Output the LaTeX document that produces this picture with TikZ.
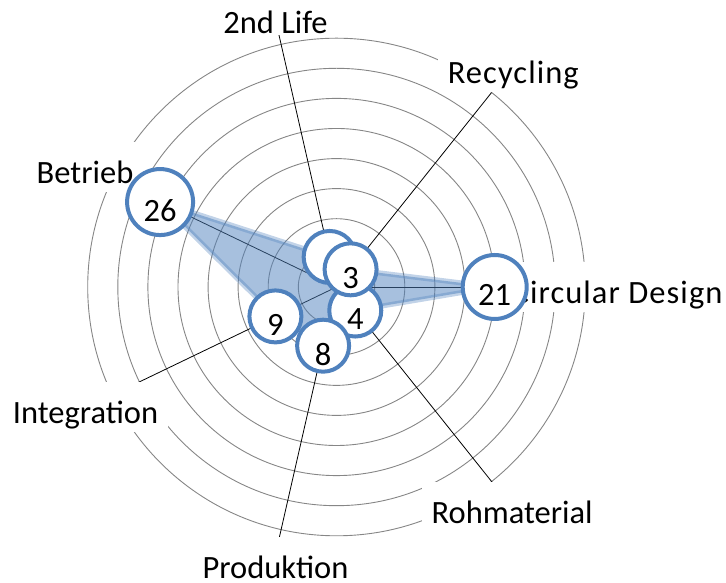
\documentclass[tikz,border=0pt]{standalone}
\usepackage{fontspec}
\setmainfont{Carlito}
\definecolor{xlblue}{HTML}{4F81BD}
\definecolor{gridgray}{HTML}{868686}
\begin{document}
\begin{tikzpicture}[x=1pt,y=1pt,
  gridline/.style={draw=gridgray,line width=0.9pt},
  axisline/.style={draw=black,line width=0.8pt},
  lab/.style={fill=white,inner xsep=10pt,inner ysep=0pt,text height=41pt,text depth=9pt,anchor=base,font=\fontsize{32.5pt}{39pt}\selectfont},
  wide/.style={font=\fontsize{32.5pt}{39pt}\selectfont\addfontfeature{LetterSpace=3.3}},
  bubble/.style={circle,draw=xlblue,fill=white,line width=4pt,inner sep=0pt},
  small/.style={bubble,minimum size=52pt},
  num/.style={inner sep=0pt,font=\fontsize{32.5pt}{39pt}\selectfont}]
\useasboundingbox (0,0) rectangle (726,583);
\coordinate (C) at (336.5,296);
% grid circles
\foreach \r in {38.2,68.3,98.4,128.4,158.5,188.6,218.7,248.8}
  \draw[gridline] (C) circle[radius=\r];
\begin{scope}[shift={(C)}]
  % axis ends
  \coordinate (aCD) at (0:258);
  \coordinate (aRec) at (51.43:248.6);
  \coordinate (aTL) at (102.86:258.4);
  \coordinate (aBet) at (154.29:220);
  \coordinate (aInt) at (205.71:221.8);
  \coordinate (aPro) at (257.14:257.7);
  \coordinate (aRoh) at (308.57:251);
  % data points
  \coordinate (pCD) at (0:158.2);
  \coordinate (pRec) at (51.43:22.6);
  \coordinate (pTL) at (102.86:30.8);
  \coordinate (pBet) at (154.29:195.8);
  \coordinate (pInt) at (205.71:67.8);
  \coordinate (pPro) at (257.14:60.2);
  \coordinate (pRoh) at (308.57:30.1);
\end{scope}
% axes
\foreach \e in {aCD,aRec,aTL,aBet,aInt,aPro,aRoh}
  \draw[axisline] (C) -- (\e);
% category labels
\node[lab] (lTL) at (275.5,549.7) [text depth=2pt] {2nd Life};
\node[lab,wide] (lRec) at (513.3,499.7) {Recycling};
\node[lab,wide,anchor=base east] (lCD) at (732.7,279.7) {Circular Design};
\node[lab] (lBet) at (85,399.7) {Betrieb};
\node[lab] (lInt) at (85.5,159.7) {Integration};
\node[lab,text depth=4pt] (lPro) at (275.5,4.7) {Produktion};
\node[lab] (lRoh) at (512.2,59.7) {Rohmaterial};
% filled area
\fill[xlblue,fill opacity=0.5] (pCD) -- (pRec) -- (pTL) -- (pBet) -- (pInt) -- (pPro) -- (pRoh) -- cycle;
\draw[xlblue,draw opacity=0.35,line width=5pt,line join=round] (pCD) -- (pRec) -- (pTL) -- (pBet) -- (pInt) -- (pPro) -- (pRoh) -- cycle;
% bubbles
\node[small] (bTL) at (pTL) {};
\node[small] (bRoh) at (pRoh) {};
\node[small] (bInt) at (pInt) {};
\node[small] (bPro) at (pPro) {};
\node[small] (bRec) at (pRec) {};
\node[bubble,minimum size=66pt] (bBet) at (pBet) {};
\node[bubble,minimum size=64pt] (bCD) at (pCD) {};
% values
\node[num] (nRoh) at ([yshift=-8.5pt]bRoh.center) {4};
\node[num] (nInt) at ([yshift=-8.5pt]bInt.center) {9};
\node[num] (nPro) at ([yshift=-8.5pt]bPro.center) {8};
\node[num] (nRec) at ([yshift=-8.5pt]bRec.center) {3};
\node[num] (nBet) at ([yshift=-8.5pt]bBet.center) {26};
\node[num] (nCD) at ([yshift=-7.5pt]bCD.center) {21};
\end{tikzpicture}
\end{document}
